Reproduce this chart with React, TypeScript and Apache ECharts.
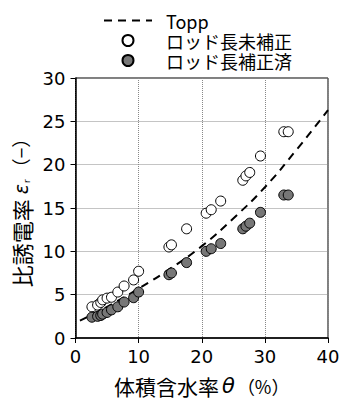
import React, { useEffect, useRef } from "react";
import * as echarts from "echarts";

const thetaValues = [2.6, 3.5, 4.0, 4.3, 5.0, 5.7, 6.7, 7.7, 9.2, 10.0, 14.8, 15.2, 17.6, 20.7, 21.5, 23.0, 26.5, 27.0, 27.6, 29.3, 33.0, 33.7];
const epsUncorrected = [3.6, 3.8, 4.1, 4.4, 4.6, 4.7, 5.3, 6.0, 6.7, 7.7, 10.5, 10.75, 12.6, 14.4, 14.8, 15.8, 18.2, 18.7, 19.1, 21.0, 23.8, 23.8];
const epsCorrected = [2.4, 2.5, 2.6, 2.75, 2.95, 3.25, 3.6, 4.15, 4.65, 5.3, 7.3, 7.5, 8.7, 10.0, 10.3, 10.9, 12.6, 12.9, 13.25, 14.5, 16.5, 16.5];
const toppTheta = [0.7, 5, 10, 15, 20, 25, 30, 35, 40];
const toppEps = [2.0, 3.6, 5.7, 8.0, 10.6, 13.8, 17.4, 21.7, 26.3];
const seriesNames = ["Topp", "ロッド長未補正", "ロッド長補正済"];

const NUM_FONT = "'DejaVu Sans', 'Noto Sans CJK JP', sans-serif";
const JP_FONT = "'Noto Sans CJK JP', sans-serif";

export default function App() {
  const ref = useRef<HTMLDivElement>(null);
  useEffect(() => {
    if (!ref.current) return;
    const chart = echarts.init(ref.current, undefined, { renderer: "svg" });
    chart.setOption({
      animation: false,
      backgroundColor: "#fff",
      grid: { left: 75.5, right: 26, top: 78, bottom: 79, show: true, borderColor: "#000", borderWidth: 1, backgroundColor: "transparent" },
      legend: {
        orient: "vertical",
        left: 98,
        top: 6,
        itemWidth: 48,
        itemHeight: 11,
        itemGap: 1,
        data: [
          { name: seriesNames[0], itemStyle: { opacity: 0 } },
          { name: seriesNames[1] },
          { name: seriesNames[2] },
        ],
        textStyle: { fontSize: 18, lineHeight: 19, color: "#000", fontFamily: JP_FONT, padding: [0, 0, 0, 9] },
      },
      xAxis: {
        type: "value",
        min: 0,
        max: 40,
        interval: 10,
        name: "{a|体積含水率}{t|θ}{p|（%）}",
        nameLocation: "middle",
        nameGap: 37,
        nameTextStyle: {
          rich: {
            a: { fontSize: 21, fontFamily: JP_FONT, color: "#000" },
            t: { fontSize: 21, fontFamily: NUM_FONT, fontStyle: "italic", color: "#000", padding: [0, 2, 0, 3] },
            p: { fontSize: 18, fontFamily: JP_FONT, color: "#000" },
          },
        },
        axisLine: { lineStyle: { color: "#000", width: 1.5 } },
        axisTick: { inside: false, length: 5, lineStyle: { color: "#000", width: 1 } },
        axisLabel: { fontSize: 18, color: "#000", fontFamily: NUM_FONT, margin: 9 },
        splitLine: { show: true, lineStyle: { type: "dotted", color: "#888", width: 1 } },
      },
      yAxis: {
        type: "value",
        min: 0,
        max: 30,
        interval: 5,
        name: "{a|比誘電率 }{e|ε}{s|r}{p|（−）}",
        nameLocation: "middle",
        nameGap: 42,
        nameRotate: 90,
        nameTextStyle: {
          rich: {
            a: { fontSize: 22, fontFamily: JP_FONT, color: "#000" },
            e: { fontSize: 19, fontFamily: NUM_FONT, fontStyle: "italic", color: "#000" },
            s: { fontSize: 9, fontFamily: NUM_FONT, color: "#000", verticalAlign: "bottom", padding: [8, 2, 0, 1] },
            p: { fontSize: 19, fontFamily: JP_FONT, color: "#000" },
          },
        },
        axisLine: { show: true, lineStyle: { color: "#000", width: 1.5 } },
        axisTick: { show: true, inside: false, length: 5, lineStyle: { color: "#000", width: 1 } },
        axisLabel: { fontSize: 18, color: "#000", fontFamily: NUM_FONT, margin: 10 },
        splitLine: { show: true, lineStyle: { type: "dotted", color: "#888", width: 1 } },
      },
      series: [
        {
          name: seriesNames[0],
          type: "line",
          smooth: true,
          symbol: "none",
          data: toppTheta.map((t, i) => [t, toppEps[i]]),
          lineStyle: { color: "#000", width: 2, type: [8, 6] },
          itemStyle: { color: "#000" },
          z: 1,
        },
        {
          name: seriesNames[1],
          type: "scatter",
          symbol: "circle",
          symbolSize: 10,
          data: thetaValues.map((t, i) => [t, epsUncorrected[i]]),
          itemStyle: { color: "#fff", borderColor: "#000", borderWidth: 1, opacity: 1 },
          z: 3,
        },
        {
          name: seriesNames[2],
          type: "scatter",
          symbol: "circle",
          symbolSize: 10,
          data: thetaValues.map((t, i) => [t, epsCorrected[i]]),
          itemStyle: { color: "#777", borderColor: "#000", borderWidth: 1, opacity: 1 },
          z: 3,
        },
      ],
    });
    return () => chart.dispose();
  }, []);
  return <div ref={ref} style={{ position: "absolute", left: 0, top: 0, width: 354, height: 417 }} />;
}
